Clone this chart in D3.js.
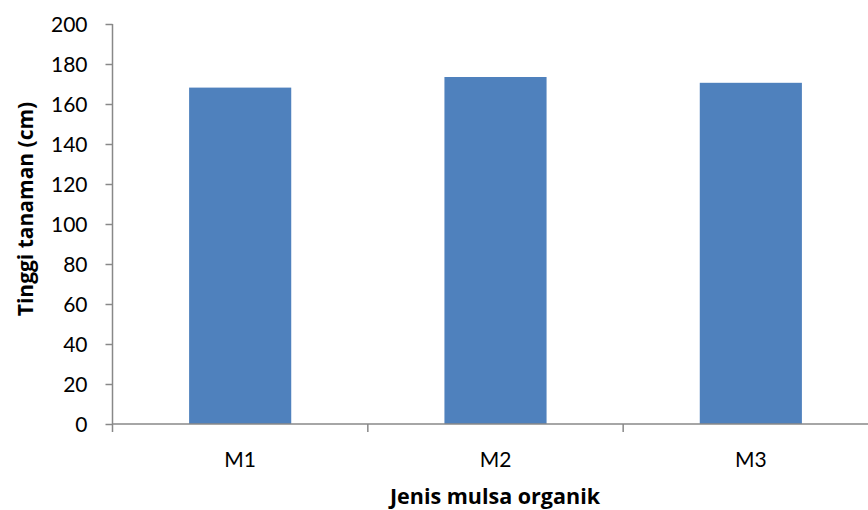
<!DOCTYPE html>
<html>
<head>
<meta charset="utf-8">
<script src="https://cdn.jsdelivr.net/npm/d3@7"></script>
<style>
  html, body { margin: 0; padding: 0; background: #fff; }
  svg { display: block; }
  text { font-family: Lato, "Open Sans", sans-serif; fill: #000; }
  text.title { font-family: "Open Sans", Lato, sans-serif; font-weight: bold; }
</style>
</head>
<body>
<svg id="chart" width="868" height="510"></svg>
<script>
// Plant height per organic mulch type
const categories = ["M1", "M2", "M3"];
const heights = [168.2, 173.5, 170.6];
const yTicks = [0, 20, 40, 60, 80, 100, 120, 140, 160, 180, 200];

const svg = d3.select("#chart");
const margin = { left: 112.5, top: 24, bottom: 424, right: 878.5 };
const axisColor = "#888888";

const x = d3.scaleBand()
  .domain(categories)
  .range([margin.left, margin.right])
  .paddingInner(0.6)
  .paddingOuter(0.3);

const y = d3.scaleLinear()
  .domain([0, 200])
  .range([margin.bottom, margin.top]);

// Bars
svg.append("g")
  .selectAll("rect")
  .data(categories)
  .join("rect")
  .attr("x", (d) => x(d))
  .attr("width", x.bandwidth())
  .attr("y", (d, i) => y(heights[i]))
  .attr("height", (d, i) => y(0) - y(heights[i]))
  .attr("fill", "#4F81BD");

// Y axis
const yAxis = svg.append("g")
  .attr("transform", `translate(${margin.left},0)`)
  .call(d3.axisLeft(y).tickValues(yTicks).tickSize(7).tickSizeOuter(0));
yAxis.select(".domain").attr("stroke", axisColor).attr("stroke-width", 1.5)
  .attr("d", `M0,${margin.top}V${margin.bottom + 8}`);
yAxis.selectAll(".tick line").attr("stroke", axisColor).attr("stroke-width", 1.5);
yAxis.selectAll(".tick text")
  .style("font-size", "21px")
  .attr("dy", "0.36em")
  .attr("x", -25);

// X axis: boundary ticks between categories
const xg = svg.append("g");
xg.append("line")
  .attr("x1", margin.left).attr("x2", margin.right)
  .attr("y1", y(0)).attr("y2", y(0))
  .attr("stroke", axisColor).attr("stroke-width", 1.5);
const bounds = d3.range(categories.length + 1).map((i) => margin.left + i * (margin.right - margin.left) / categories.length);
xg.selectAll("line.tk")
  .data(bounds.slice(1))
  .join("line")
  .attr("class", "tk")
  .attr("x1", (d) => d).attr("x2", (d) => d)
  .attr("y1", y(0)).attr("y2", y(0) + 8)
  .attr("stroke", axisColor).attr("stroke-width", 1.5);
xg.selectAll("text")
  .data(categories)
  .join("text")
  .attr("x", (d) => x(d) + x.bandwidth() / 2)
  .attr("y", 467)
  .attr("text-anchor", "middle")
  .style("font-size", "21px")
  .text((d) => d);

// Axis titles
svg.append("text")
  .attr("class", "title")
  .attr("x", 495)
  .attr("y", 504)
  .attr("text-anchor", "middle")
  .style("font-size", "21.5px")
  .text("Jenis mulsa organik");

svg.append("text")
  .attr("class", "title")
  .attr("transform", "translate(33,209) rotate(-90)")
  .attr("text-anchor", "middle")
  .style("font-size", "21px")
  .text("Tinggi tanaman (cm)");
</script>
</body>
</html>
